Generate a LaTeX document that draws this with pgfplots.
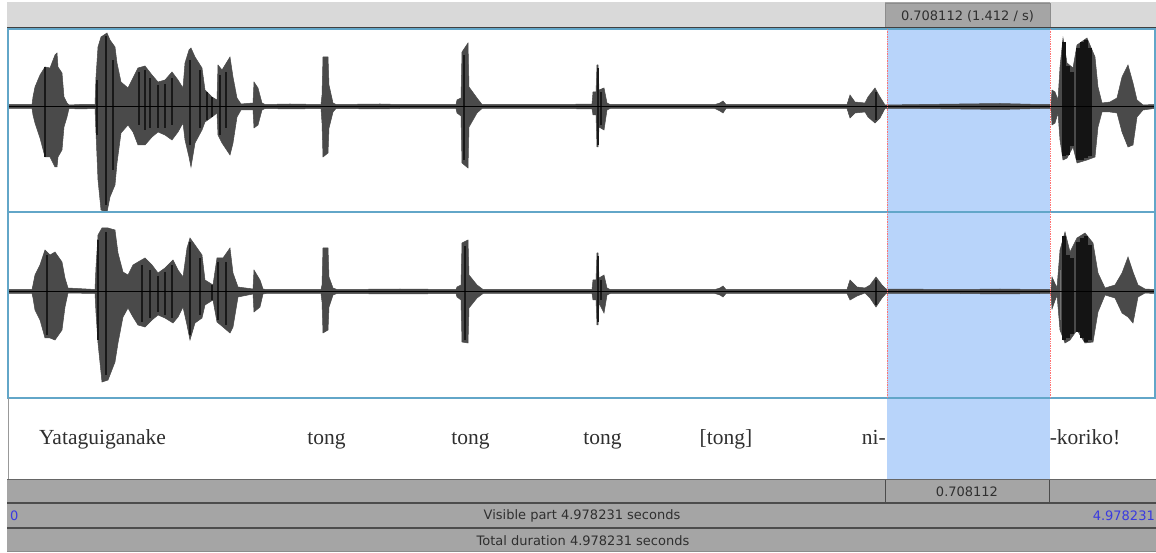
\documentclass[border=0pt]{standalone}
\usepackage{pgfplots}
\pgfplotsset{compat=1.18}
\usepgfplotslibrary{fillbetween}
\usepackage{pgfplotstable}
\usepackage{fontspec}
\setmainfont{DejaVu Sans}
\newfontfamily\serif{Liberation Serif}
\definecolor{barg}{HTML}{A5A5A5}
\definecolor{topg}{HTML}{D9D9D9}
\definecolor{selb}{HTML}{B8D4FA}
\definecolor{frame}{HTML}{62A6C8}
\definecolor{wave}{HTML}{4A4A4A}
\definecolor{ltxt}{HTML}{2F2F2F}
\definecolor{numb}{HTML}{3A3AE0}
\pgfplotstableread{
x top bot
8 104.5 108.5
32 104.5 108.5
33 97 115
35 87 123
40 75 138
45 67 157
50 68 157
55 55 167
57 53 167
58 67 157
62 73 150
64 97 127
67 103 117
69 105 108.5
80 104.5 109
95 104.5 108.5
96 77 133
98 47 180
101 37 210
107 33 212
110 40 197
115 47 185
117 63 163
121 82 133
128 88 125
133 78 132
138 68 145
145 66 145
152 75 137
158 82 132
165 80 135
172 72 140
178 80 132
183 88 123
185 63 140
189 50 157
191 48 167
195 57 143
202 68 130
205 90 122
212 97 117
217 100 113
218 65 135
222 70 143
230 57 155
233 77 143
237 98 117
241 104 110
253 103 110
254 82 128
258 88 125
262 103 110
265 104.5 108.5
290 104 109
321 104.5 108.5
322 95 123
323 57 157
328 57 153
329 85 128
333 103 112
336 104.5 108.5
380 104 109
400 104.5 108.5
456 104.5 108.5
457 100 113
461 98 116
462 52 163
468 43 168
469 87 127
477 98 113
482 104.5 108.5
560 104.5 108.5
592 104 109
593 92 115
596 92 115
597 65 147
598 65 147
599 90 127
604 88 130
607 103 110
610 104.5 108.5
715 104.5 108.5
720 103 111
723 101 113
726 104.5 108.5
847 104.5 108.5
850 95 118
855 102 113
865 103 112
868 97 117
875 88 123
880 97 118
885 105 108.5
920 104.5 108.5
960 104 109
1000 103.5 109.5
1040 104.5 108.5
1051 104.5 108.5
1052 90 125
1055 92 123
1058 100 113
1060 67 140
1063 38 160
1067 63 158
1073 68 147
1077 45 163
1087 38 160
1095 57 157
1098 87 127
1102 103 112
1110 102 112
1117 98 113
1122 77 132
1128 65 147
1133 83 145
1137 100 117
1143 105 110
1154 104.5 108.5
}\chone
\pgfplotstableread{
x top bot
8 289.5 293.5
32 289.5 293.5
33 285 298
35 275 310
40 265 320
45 250 338
50 255 338
55 252 340
62 262 330
65 278 307
68 288 293
95 289.5 293.5
96 267 313
98 235 343
102 228 382
108 228 380
115 230 362
118 253 343
123 272 317
128 275 308
133 265 317
138 262 325
145 258 327
152 265 320
158 273 315
165 268 318
173 260 323
178 270 317
183 277 307
187 248 325
190 238 340
195 245 323
202 255 318
205 280 305
213 285 300
217 258 322
223 258 327
230 248 333
233 273 327
238 287 297
253 289 294
254 270 312
260 280 307
263 289 294
266 289.5 293.5
321 289.5 293.5
322 285 302
323 248 333
328 248 330
329 277 307
333 288 295
337 289.5 293.5
400 289 294
456 289.5 293.5
457 287 297
461 285 300
462 243 342
468 240 343
469 275 308
477 285 298
483 289.5 293.5
560 289.5 293.5
592 289.5 293.5
593 280 300
596 280 300
597 253 325
598 253 325
599 278 303
604 275 313
607 288 295
610 289.5 293.5
715 289.5 293.5
720 288 295
723 286 297
726 289.5 293.5
847 289.5 293.5
850 280 300
857 287 296
865 288 293
870 285 298
876 277 307
882 285 298
886 289 293.5
960 289.5 293.5
1000 289 294
1040 289.5 293.5
1051 289.5 293.5
1052 277 309
1057 288 295
1060 250 330
1065 232 343
1070 252 340
1077 238 330
1085 233 343
1093 243 342
1098 273 312
1105 288 295
1115 285 298
1122 273 313
1128 257 317
1133 272 323
1138 285 297
1145 289 293
1154 289.5 293.5
}\chtwo
\begin{document}
\begin{tikzpicture}
\begin{axis}[
  scale only axis, width=1156bp, height=552bp,
  xmin=0, xmax=1156, ymin=0, ymax=552, y dir=reverse,
  hide axis, clip=true, set layers,
]
% panels
\begin{pgfonlayer}{axis background}
\fill[topg] (axis cs:7,2) rectangle (axis cs:1156,27);
\fill[white] (axis cs:8,29) rectangle (axis cs:1155,480);
\fill[selb] (axis cs:887,29) rectangle (axis cs:1050,480);
\fill[barg] (axis cs:885,2) rectangle (axis cs:1050,28);
\fill[barg] (axis cs:7,479) rectangle (axis cs:1156,551);
\end{pgfonlayer}
\draw[black!45,line width=0.7bp] (axis cs:885,28) -- (axis cs:885,3) -- (axis cs:1050,3) -- (axis cs:1050,28);
\draw[black!75,line width=1bp] (axis cs:7,28) -- (axis cs:1156,28);
% waveforms
\addplot[name path=atop,wave,line width=0.5bp] table[x=x,y=top] {\chone};
\addplot[name path=abot,wave,line width=0.5bp] table[x=x,y=bot] {\chone};
\addplot[fill=wave,draw=none] fill between[of=atop and abot];
\addplot[name path=btop,wave,line width=0.5bp] table[x=x,y=top] {\chtwo};
\addplot[name path=bbot,wave,line width=0.5bp] table[x=x,y=bot] {\chtwo};
\addplot[fill=wave,draw=none] fill between[of=btop and bbot];
% dark streaks
\addplot[black!90,line width=1.6bp,unbounded coords=jump] coordinates {
(45,67)(45,157)(nan,nan)(97,80)(97,135)(nan,nan)(106,36)(106,205)(nan,nan)(113,60)(113,170)(nan,nan)
(139,72)(139,125)(nan,nan)(145,70)(145,130)(nan,nan)(150,78)(150,128)(nan,nan)(158,85)(158,128)(nan,nan)(165,84)(165,128)(nan,nan)(172,78)(172,125)(nan,nan)
(190,60)(190,145)(nan,nan)(200,70)(200,128)(nan,nan)(207,92)(207,120)(nan,nan)(212,97)(212,117)(nan,nan)(220,75)(220,135)(nan,nan)(226,72)(226,128)(nan,nan)
(464,55)(464,160)(nan,nan)(598,68)(598,145)(nan,nan)(601,92)(601,125)(nan,nan)
(98,240)(98,340)(nan,nan)(106,232)(106,375)(nan,nan)(142,265)(142,322)(nan,nan)(150,270)(150,318)(nan,nan)(158,276)(158,312)(nan,nan)(165,272)(165,315)(nan,nan)(172,265)(172,318)(nan,nan)
(47,255)(47,335)(nan,nan)(190,242)(190,335)(nan,nan)(200,258)(200,315)(nan,nan)(212,285)(212,300)(nan,nan)(218,262)(218,320)(nan,nan)(226,262)(226,325)(nan,nan)
(465,246)(465,340)(nan,nan)(598,256)(598,322)(nan,nan)(601,280)(601,300)(nan,nan)
(876,92)(876,120)(nan,nan)(876,280)(876,305)
};
\addplot[black!92,line width=3.4bp,unbounded coords=jump] coordinates {
(1064,42)(1064,156)(nan,nan)(1068,66)(1068,155)(nan,nan)(1072,72)(1072,146)(nan,nan)(1078,48)(1078,160)(nan,nan)(1082,42)(1082,160)(nan,nan)(1086,40)(1086,158)(nan,nan)(1090,48)(1090,156)(nan,nan)
(1064,236)(1064,340)(nan,nan)(1068,255)(1068,338)(nan,nan)(1072,258)(1072,334)(nan,nan)(1078,242)(1078,332)(nan,nan)(1082,238)(1082,338)(nan,nan)(1086,236)(1086,342)(nan,nan)(1090,245)(1090,340)
};
\addplot[black!55,line width=0.9bp] coordinates {(1060,270)(1060,320)};
% baselines
\addplot[black,line width=1.6bp] coordinates {(8,106.5)(1154,106.5)};
\addplot[black,line width=1.6bp] coordinates {(8,291.5)(1154,291.5)};
% frames
\draw[frame,line width=1.6bp] (axis cs:8,29) rectangle (axis cs:1155,398);
\draw[frame,line width=1.6bp] (axis cs:8,212) -- (axis cs:1155,212);
\draw[black!40,line width=1bp] (axis cs:8,398) -- (axis cs:8,480);
\draw[red!55,densely dotted,line width=0.7bp] (axis cs:887,29) -- (axis cs:887,398);
\draw[red!55,densely dotted,line width=0.7bp] (axis cs:1050,29) -- (axis cs:1050,398);
% bars
\fill[black!60] (axis cs:7,478.5) rectangle (axis cs:1156,480);
\draw[black!70,line width=1.2bp] (axis cs:7,503) -- (axis cs:1156,503);
\draw[black!70,line width=1.2bp] (axis cs:7,528) -- (axis cs:1156,528);
\draw[black!45,line width=1bp] (axis cs:7,551.5) -- (axis cs:1156,551.5);
\draw[black!70,line width=0.8bp] (axis cs:885,480) -- (axis cs:885,502);
\draw[black!70,line width=0.8bp] (axis cs:1049,480) -- (axis cs:1049,502);
% texts
\node[text=ltxt,font=\fontsize{13bp}{14bp}\selectfont] at (axis cs:967.5,16) {0.708112 (1.412 / s)};
\node[text=ltxt,font=\fontsize{13bp}{14bp}\selectfont] at (axis cs:967,491.5) {0.708112};
\node[text=ltxt,font=\fontsize{13bp}{14bp}\selectfont] at (axis cs:582,516) {Visible part 4.978231 seconds};
\node[text=ltxt,font=\fontsize{13bp}{14bp}\selectfont] at (axis cs:583,541) {Total duration 4.978231 seconds};
\node[text=numb,font=\fontsize{13bp}{14bp}\selectfont,anchor=west,inner sep=0pt] at (axis cs:10,516) {0};
\node[text=numb,font=\fontsize{13bp}{14bp}\selectfont,anchor=east,inner sep=0pt] at (axis cs:1155,516) {4.978231};
\foreach \t/\x in {Yataguiganake/102.5,tong/326.5,tong/470.5,tong/602.5,{[tong]}/726,-koriko!/1085}{
  \edef\tmp{\noexpand\node[text=ltxt,font=\noexpand\serif\noexpand\fontsize{21.5bp}{23bp}\noexpand\selectfont,anchor=base] at (axis cs:\x,444) {\t};}\tmp
}
\node[text=ltxt,font=\serif\fontsize{21.5bp}{23bp}\selectfont,anchor=base east,inner sep=0pt] at (axis cs:886,444) {ni-};
\end{axis}
\end{tikzpicture}
\end{document}
